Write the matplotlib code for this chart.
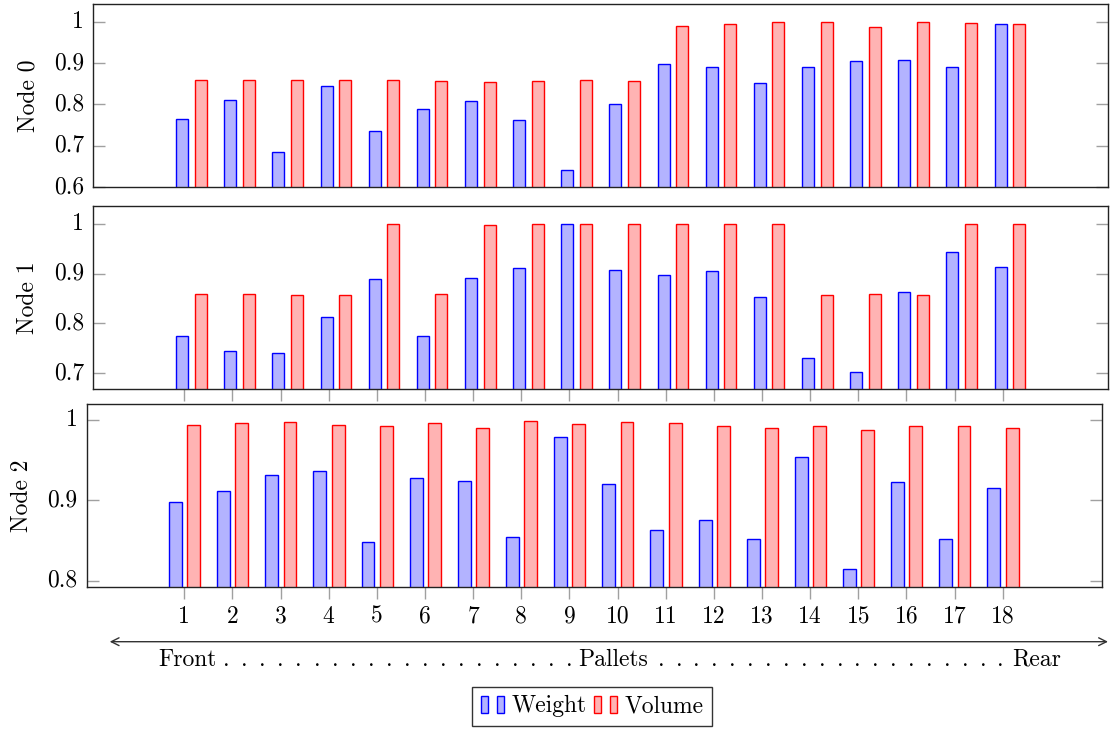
import matplotlib
matplotlib.use("Agg")
import matplotlib.pyplot as plt
import matplotlib.transforms as mtransforms
from matplotlib.patches import Patch
from matplotlib.legend_handler import HandlerTuple
import numpy as np

plt.rcParams['font.family'] = ['cmr10', 'DejaVu Serif']
plt.rcParams['mathtext.fontset'] = 'cm'
plt.rcParams['axes.unicode_minus'] = False

# data
pallets = np.arange(1, 19)
node_names = ["Node 0", "Node 1", "Node 2"]

weight0 = [0.766, 0.811, 0.685, 0.846, 0.736, 0.788, 0.808, 0.763, 0.642,
           0.802, 0.899, 0.892, 0.853, 0.890, 0.905, 0.907, 0.891, 0.995]
volume0 = [0.859, 0.859, 0.859, 0.859, 0.859, 0.858, 0.854, 0.857, 0.859,
           0.857, 0.991, 0.994, 0.999, 1.000, 0.989, 0.999, 0.997, 0.994]

weight1 = [0.775, 0.744, 0.740, 0.813, 0.889, 0.774, 0.892, 0.912, 0.999,
           0.908, 0.898, 0.906, 0.853, 0.730, 0.703, 0.864, 0.943, 0.913]
volume1 = [0.860, 0.859, 0.858, 0.858, 1.000, 0.860, 0.997, 0.999, 0.999,
           1.000, 1.000, 0.999, 0.999, 0.858, 0.860, 0.858, 1.000, 1.000]

weight2 = [0.898, 0.912, 0.932, 0.936, 0.848, 0.928, 0.924, 0.854, 0.979,
           0.920, 0.863, 0.875, 0.852, 0.954, 0.815, 0.923, 0.852, 0.916]
volume2 = [0.9935, 0.996, 0.998, 0.994, 0.993, 0.996, 0.990, 0.9985, 0.995,
           0.998, 0.996, 0.993, 0.990, 0.992, 0.988, 0.992, 0.992, 0.990]

yticks0 = [0.6, 0.7, 0.8, 0.9, 1.0]
yticks1 = [0.7, 0.8, 0.9, 1.0]
yticks2 = [0.8, 0.9, 1.0]

W, H = 1119, 729
fig = plt.figure(figsize=(W / 100, H / 100), dpi=100)
FS = 17
BLUE_FILL, RED_FILL = '#b3b3ff', '#ffb3b3'
TICK_GRAY = '#a0a0a0'


def axes_px(left, top, right, bottom):
    return fig.add_axes([left / W, 1 - bottom / H, (right - left) / W, (bottom - top) / H])


# (box in px, xlim, ylim, weight offset, volume offset, bar width)
panels = [
    ((93.3, 4, 1108, 187), (-0.890, 20.187), (0.6, 1.0436), -0.044, 0.341, 0.25,
     weight0, volume0, yticks0),
    ((93.3, 206, 1108, 389), (-0.890, 20.187), (0.668, 1.036), -0.044, 0.341, 0.25,
     weight1, volume1, yticks1),
    ((86.7, 404, 1101.7, 586.7), (-1.027, 20.056), (0.7925, 1.020), -0.183, 0.195, 0.268,
     weight2, volume2, yticks2),
]

for i, (box, xl, yl, ow, ov, bw, wv, vv, yt) in enumerate(panels):
    ax = axes_px(*box)
    ax.bar(pallets + ow, wv, width=bw, color=BLUE_FILL, edgecolor='blue', linewidth=1.0)
    ax.bar(pallets + ov, vv, width=bw, color=RED_FILL, edgecolor='red', linewidth=1.0)
    ax.set_xlim(*xl)
    ax.set_ylim(*yl)
    for s in ax.spines.values():
        s.set_color('#222222')
        s.set_linewidth(1.0)

    # y ticks inside on both sides, labels drawn by hand
    ax.set_yticks(yt)
    ax.tick_params(axis='y', direction='in', length=8.4, width=1.0, color=TICK_GRAY,
                   left=True, right=True, labelleft=False)
    trans = mtransforms.blended_transform_factory(ax.transAxes, ax.transData)
    off = mtransforms.ScaledTranslation(-9.3 / 100, 0, fig.dpi_scale_trans)
    for v in yt:
        lab = '1' if v == 1.0 else f'{v:.1f}'
        ax.text(0, v, lab, transform=trans + off, ha='right', va='center', fontsize=FS)

    # x ticks
    ax.set_xticks(pallets)
    if i == 0:
        ax.tick_params(axis='x', bottom=False, labelbottom=False)
    else:
        ax.tick_params(axis='x', direction='out', length=8.6, width=1.0, color=TICK_GRAY,
                       labelbottom=(i == 2), labelsize=FS, pad=5)
        ax.set_xticklabels([str(p) for p in pallets])

    cy = (box[1] + box[3]) / 2
    fig.text((box[0] - 65) / W, 1 - cy / H, node_names[i], rotation=90,
             ha='center', va='center', fontsize=FS)

# Front ... Pallets ... Rear axis description
ax.annotate('', xy=(1108, H - 641.7), xytext=(109.7, H - 641.7), xycoords='figure pixels',
            textcoords='figure pixels', annotation_clip=False,
            arrowprops=dict(arrowstyle='<->', lw=1.0, color='#333333', mutation_scale=14,
                            shrinkA=0, shrinkB=0))
base = 1 - 665.7 / H
fig.text(158 / W, base, 'Front', ha='left', va='baseline', fontsize=FS)
fig.text(613 / W, base, 'Pallets', ha='center', va='baseline', fontsize=FS)
fig.text(1061.5 / W, base, 'Rear', ha='right', va='baseline', fontsize=FS)
for x in np.concatenate([np.linspace(226.5, 569.8, 20), np.linspace(661, 1000.8, 20)]):
    fig.text(x / W, base, '.', ha='center', va='baseline', fontsize=FS)

# legend with two little bars per entry
handles = [(Patch(facecolor=BLUE_FILL, edgecolor='blue'), Patch(facecolor=BLUE_FILL, edgecolor='blue')),
           (Patch(facecolor=RED_FILL, edgecolor='red'), Patch(facecolor=RED_FILL, edgecolor='red'))]
fig.legend(handles, ['Weight', 'Volume'], handler_map={tuple: HandlerTuple(ndivide=None, pad=0.4)},
           ncol=2, loc='upper center', bbox_to_anchor=(592 / W, 1 - 687 / H), fontsize=FS,
           frameon=True, fancybox=False, edgecolor='#333333', framealpha=1,
           handlelength=1.0, handleheight=0.75, handletextpad=0.3, columnspacing=0.3,
           borderpad=0.35, borderaxespad=0)

fig.savefig('out.png', dpi=100)
